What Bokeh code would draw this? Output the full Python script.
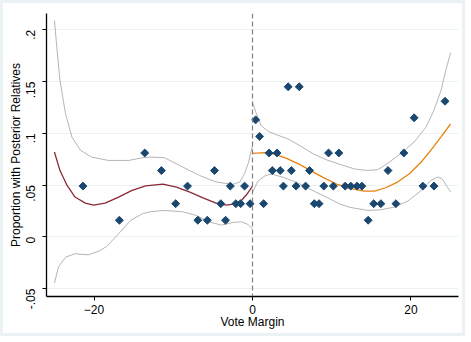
import math
from bokeh.plotting import figure
from bokeh.models import FixedTicker, Range1d, Span
from bokeh.embed import file_html
from bokeh.resources import INLINE

# ---- data ----
left_x = [-21.4, -16.8, -13.6, -11.5, -9.7, -8.2, -6.9, -5.7, -4.8, -4.0, -3.4, -2.8, -2.1, -1.5, -1.0, -0.3]
left_y = [0.049, 0.016, 0.081, 0.064, 0.032, 0.049, 0.016, 0.016, 0.064, 0.032, 0.016, 0.049, 0.032, 0.032, 0.049, 0.032]

right_x = [0.4, 0.9, 1.4, 2.1, 2.5, 3.1, 3.5, 3.9, 4.5, 4.9, 5.5, 5.9, 6.7, 7.2, 7.8, 8.4, 9.0, 9.6, 10.2,
           10.9, 11.7, 12.4, 13.2, 13.8, 14.6, 15.3, 16.2, 17.1, 18.1, 19.1, 20.4, 21.5, 22.9, 24.3]
right_y = [0.113, 0.097, 0.032, 0.081, 0.064, 0.081, 0.064, 0.049, 0.145, 0.064, 0.049, 0.145, 0.049, 0.064,
           0.032, 0.032, 0.049, 0.081, 0.049, 0.081, 0.049, 0.049, 0.049, 0.049, 0.016, 0.032, 0.032, 0.064,
           0.032, 0.081, 0.115, 0.049, 0.049, 0.131]

left_fit_x = [-25, -24.3, -23.4, -22.4, -21.1, -20.05, -18.6, -16.9, -15.2, -13.5, -11.3, -9.6, -7.9, -6.25,
              -4.6, -3.3, -2.2, -1.4, -0.76, 0]
left_fit_y = [0.082, 0.064, 0.0496, 0.0384, 0.0326, 0.0307, 0.0326, 0.0384, 0.0448, 0.0493, 0.051, 0.048,
              0.0432, 0.0377, 0.0326, 0.0307, 0.0319, 0.0351, 0.0406, 0.049]

left_hi_x = [-25, -24.7, -24.3, -23.6, -22.8, -21.7, -20.3, -18.2, -15.6, -13.9, -12.9, -11.1, -8.8, -6.7,
             -4.6, -2.5, -1.6, -1.0, -0.56, 0]
left_hi_y = [0.209, 0.1835, 0.151, 0.119, 0.0965, 0.0835, 0.077, 0.0738, 0.0738, 0.0764, 0.077, 0.0764,
             0.0674, 0.0593, 0.053, 0.0506, 0.053, 0.061, 0.0706, 0.088]

left_lo_x = [-25, -24.5, -23.6, -22.4, -20.7, -19.4, -18.4, -16.9, -15.4, -13.9, -12.9, -11.3, -8.8, -7.1,
             -5.4, -3.9, -2.5, -1.4, -0.56, 0]
left_lo_y = [-0.0448, -0.0293, -0.0197, -0.0164, -0.0174, -0.0139, -0.0093, 0.0029, 0.0158, 0.0223, 0.0242,
             0.0255, 0.0242, 0.0206, 0.0142, 0.0113, 0.0138, 0.0145, 0.0119, 0.0075]

right_fit_x = [0, 1.56, 2.8, 4.3, 6.0, 7.5, 8.9, 10.6, 12.3, 14.1, 15.4, 16.8, 18.3, 19.8, 21.3, 22.5, 23.8, 25]
right_fit_y = [0.0806, 0.0813, 0.080, 0.0758, 0.0697, 0.0632, 0.0574, 0.051, 0.0467, 0.0442, 0.0442, 0.0474,
               0.0529, 0.061, 0.0723, 0.0835, 0.0965, 0.109]

right_hi_x = [0, 0.5, 1.1, 2.0, 3.0, 4.5, 6.0, 7.7, 9.4, 11.05, 12.9, 14.5, 15.8, 17.0, 18.7, 20.4, 21.9,
              22.9, 23.8, 24.4, 25]
right_hi_y = [0.130, 0.1187, 0.1074, 0.1019, 0.0987, 0.0945, 0.088, 0.080, 0.0742, 0.070, 0.0655, 0.0641,
              0.0648, 0.0706, 0.0803, 0.0916, 0.106, 0.1222, 0.1416, 0.161, 0.1777]

right_lo_x = [0, 0.7, 1.6, 2.4, 3.9, 5.6, 7.25, 9.4, 11.05, 12.3, 13.1, 14.5, 16.2, 17.9, 19.6, 21.3, 22.5,
              23.4, 24.0, 24.6, 25]
right_lo_y = [0.0429, 0.054, 0.059, 0.0607, 0.0574, 0.0525, 0.046, 0.038, 0.0316, 0.0284, 0.0274, 0.0255,
              0.0261, 0.0287, 0.0345, 0.0448, 0.0545, 0.0578, 0.0555, 0.048, 0.0433]

x_ticks = [-20, 0, 20]
y_ticks = [-0.05, 0, 0.05, 0.1, 0.15, 0.2]
y_tick_labels = ["-.05", "0", ".05", ".1", ".15", ".2"]

FONT = "Liberation Sans"
NAVY = "#1a476f"
GREY = "#b5b5b5"

p = figure(width=465, height=336, output_backend="svg", toolbar_location=None,
           x_range=Range1d(-26, 26), y_range=Range1d(-0.0577, 0.2158),
           min_border_left=43, min_border_right=10, min_border_top=10, min_border_bottom=43)
p.styles = {"border": "3px solid #eaf2f3"}
p.background_fill_color = "white"
p.border_fill_color = "white"
p.outline_line_color = None

# grid
p.xgrid.visible = False
p.ygrid.ticker = FixedTicker(ticks=y_ticks)
p.ygrid.grid_line_color = "#eaf2f3"
p.ygrid.grid_line_width = 1

# axes
for ax in (p.xaxis[0], p.yaxis[0]):
    ax.axis_line_color = "black"
    ax.axis_line_width = 1.3
    ax.major_tick_line_color = "black"
    ax.major_tick_out = 4
    ax.major_tick_in = 0
    ax.minor_tick_line_color = None
    ax.major_label_text_font = FONT
    ax.major_label_text_font_size = "12px"
    ax.major_label_text_color = "black"
    ax.axis_label_text_font = FONT
    ax.axis_label_text_font_size = "12px"
    ax.axis_label_text_font_style = "normal"
    ax.axis_label_text_color = "black"

p.xaxis.ticker = FixedTicker(ticks=x_ticks)
p.xaxis.axis_label = "Vote Margin"
p.xaxis.major_label_standoff = 4
p.xaxis.axis_label_standoff = -2

p.yaxis.ticker = FixedTicker(ticks=y_ticks)
p.yaxis.major_label_overrides = {t: l for t, l in zip(y_ticks, y_tick_labels)}
p.yaxis.major_label_orientation = math.pi / 2
p.yaxis.axis_label = "Proportion with Posterior Relatives"
p.yaxis.major_label_standoff = 12
p.yaxis.axis_label_standoff = -4

# cutoff line
p.add_layout(Span(location=0, dimension="height", line_color="#808080", line_dash="5 3", line_width=1.2))

# confidence bands
for xs, ys in ((left_hi_x, left_hi_y), (left_lo_x, left_lo_y), (right_hi_x, right_hi_y), (right_lo_x, right_lo_y)):
    p.line(xs, ys, line_color=GREY, line_width=1)

# fits
p.line(left_fit_x, left_fit_y, line_color="#8b2a36", line_width=1.3)
p.line(right_fit_x, right_fit_y, line_color="#e8820c", line_width=1.3)

# points
p.scatter(left_x + right_x, left_y + right_y, marker="square", angle=math.pi / 4, size=5.6,
          fill_color=NAVY, line_color=NAVY, line_width=1)

open("out.html", "w").write(file_html(p, INLINE))
